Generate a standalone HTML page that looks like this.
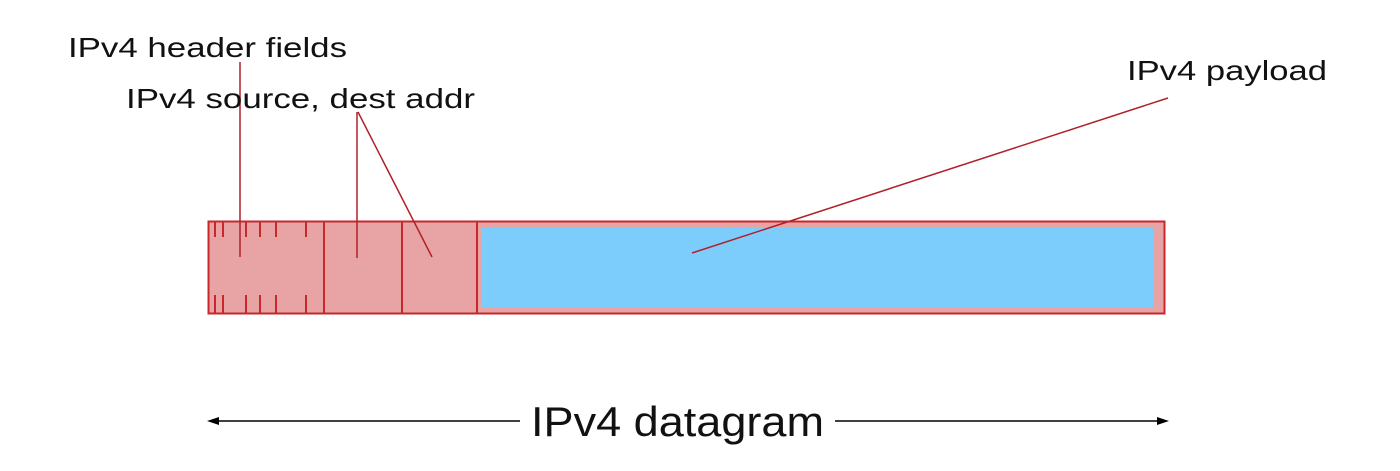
<!DOCTYPE html>
<html><head><style>body{margin:0;background:#fff;width:1400px;height:466px;overflow:hidden}</style></head><body>
<svg width="1400" height="466" xmlns="http://www.w3.org/2000/svg" font-family="Liberation Sans, sans-serif">
<rect x="208.5" y="221.5" width="956" height="92" fill="#e8a4a4" stroke="#c8282c" stroke-width="2"/>
<rect x="481" y="227" width="672" height="80" fill="#7dcdfc"/>
<g stroke="#c8282c" stroke-width="2">
<line x1="324" y1="221" x2="324" y2="313"/>
<line x1="402" y1="221" x2="402" y2="313"/>
<line x1="477" y1="221" x2="477" y2="313"/>
<line x1="215" y1="221" x2="215" y2="237"/><line x1="223" y1="221" x2="223" y2="237"/>
<line x1="246" y1="221" x2="246" y2="237"/><line x1="260" y1="221" x2="260" y2="237"/>
<line x1="276" y1="221" x2="276" y2="237"/><line x1="306" y1="221" x2="306" y2="237"/>
<line x1="215" y1="295" x2="215" y2="313"/><line x1="223" y1="295" x2="223" y2="313"/>
<line x1="246" y1="295" x2="246" y2="313"/><line x1="260" y1="295" x2="260" y2="313"/>
<line x1="276" y1="295" x2="276" y2="313"/><line x1="306" y1="295" x2="306" y2="313"/>
</g>
<g stroke="#b0202a" stroke-width="1.5" fill="none">
<line x1="240" y1="62" x2="240" y2="257"/>
<line x1="357" y1="112" x2="357" y2="258"/>
<line x1="358" y1="112" x2="432" y2="257"/>
<line x1="1168" y1="98" x2="692" y2="253"/>
</g>
<g font-size="28" fill="#111">
<text x="68" y="57" textLength="279" lengthAdjust="spacingAndGlyphs">IPv4 header fields</text>
<text x="126" y="108" textLength="349" lengthAdjust="spacingAndGlyphs">IPv4 source, dest addr</text>
<text x="1127" y="80" textLength="200" lengthAdjust="spacingAndGlyphs">IPv4 payload</text>
</g>
<text x="531" y="436" font-size="42" fill="#111" textLength="293" lengthAdjust="spacingAndGlyphs">IPv4 datagram</text>
<g stroke="#000" stroke-width="1.5">
<line x1="215" y1="421" x2="520" y2="421"/>
<line x1="835" y1="421" x2="1160" y2="421"/>
</g>
<polygon points="207,421 219,417 219,425" fill="#000"/>
<polygon points="1169,421 1157,417 1157,425" fill="#000"/>
</svg>
</body></html>
